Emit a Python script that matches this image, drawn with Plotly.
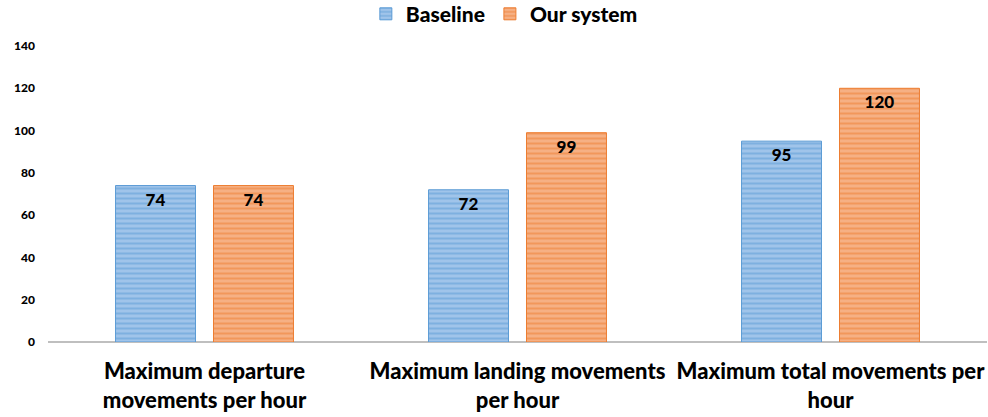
import plotly.graph_objects as go

categories = [
    "Maximum departure<br>movements per hour",
    "Maximum landing movements<br>per hour",
    "Maximum total movements per<br>hour",
]
baseline = [74, 72, 95]
our_system = [74, 99, 120]
y_ticks = [0, 20, 40, 60, 80, 100, 120, 140]

FONT = "Lato, 'Open Sans', sans-serif"


def bar(name, values, fill, line):
    return go.Bar(
        name=name,
        x=categories,
        y=values,
        text=[str(v) for v in values],
        textposition="inside",
        insidetextanchor="end",
        textfont=dict(family=FONT, size=17, color="black", weight=900),
        marker=dict(
            color=fill,
            line=dict(color=line, width=1),
            pattern=dict(shape="-", fgcolor=line, bgcolor=fill, size=5, solidity=0.4),
        ),
    )


fig = go.Figure([
    bar("Baseline", baseline, "#a0c4ea", "#5b9bd5"),
    bar("Our system", our_system, "#f6b084", "#ed7d31"),
])

fig.update_layout(
    width=988,
    height=417,
    margin=dict(l=48, r=1, t=46, b=75, autoexpand=False),
    paper_bgcolor="white",
    plot_bgcolor="white",
    barmode="group",
    bargap=0.374,
    bargroupgap=0.184,
    font=dict(family=FONT, color="black"),
    legend=dict(
        orientation="h",
        x=0.486,
        xanchor="center",
        y=0.966,
        yanchor="middle",
        yref="container",
        font=dict(size=21, weight=900),
        itemwidth=30,
    ),
)

fig.update_xaxes(
    showline=False,
    showgrid=False,
    ticks="",
    tickfont=dict(size=22, weight=900),
    ticklabelstandoff=14,
)
fig.update_yaxes(
    range=[0, 140],
    tickvals=y_ticks,
    showgrid=False,
    zeroline=True,
    zerolinecolor="#bfbfbf",
    zerolinewidth=1.5,
    tickfont=dict(size=12, weight=900),
    ticklabelstandoff=12,
)

fig.write_html("out.html")
